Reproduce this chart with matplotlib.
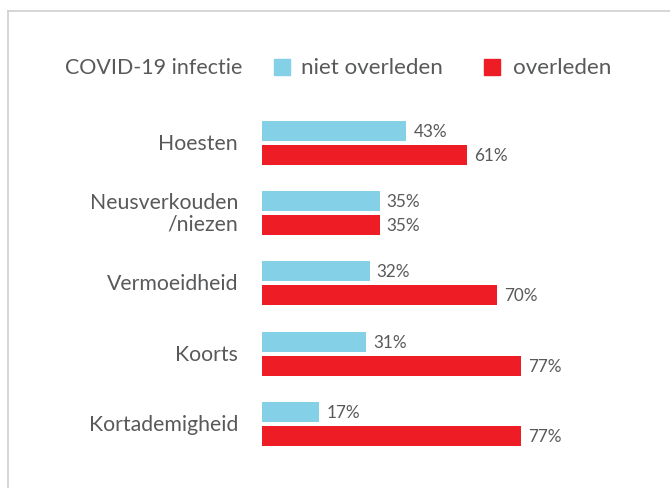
import matplotlib
matplotlib.use("Agg")
import matplotlib.pyplot as plt
from matplotlib.lines import Line2D
from matplotlib.patches import Rectangle

categories = ["Hoesten", "Neusverkouden\n/niezen", "Vermoeidheid", "Koorts", "Kortademigheid"]
niet_overleden = [43, 35, 32, 31, 17]
overleden = [61, 35, 70, 77, 77]
legend_title = "COVID-19 infectie"
series_names = ["niet overleden", "overleden"]

BLUE = "#83d0e7"
RED = "#ee1c25"
TXT = "#58595b"
FONT = ["Lato", "DejaVu Sans"]

W, H = 670, 489
fig = plt.figure(figsize=(W / 100, H / 100), dpi=100)

def fx(px):
    return px / W

def fy(py):
    return 1 - py / H

# frame border (left and top)
fig.add_artist(Line2D([fx(8), fx(8)], [fy(12), 0], color="#cfcfcf", lw=1.2))
fig.add_artist(Line2D([fx(8), 1], [fy(12), fy(12)], color="#cfcfcf", lw=1.2))

# axes: x 0..100 spans 262..598 px; groups centred at 144 + 70.2*i
SP = 70.2
x0, x1 = 262, 262 + 3.36 * 100
ytop, ybot = 144 - 0.5 * SP, 144 + 4.5 * SP
ax = fig.add_axes([fx(x0), fy(ybot), fx(x1) - fx(x0), fy(ytop) - fy(ybot)])
ax.set_xlim(0, 100)
ax.set_ylim(4.5, -0.5)
ax.axis("off")

bh = 20 / SP
off = 12 / SP
for i, (a, b) in enumerate(zip(niet_overleden, overleden)):
    ax.barh(i - off, a, height=bh, color=BLUE)
    ax.barh(i + off, b, height=bh, color=RED)
    ax.annotate(f"{a}%", (a, i - off), xytext=(7, 0), textcoords="offset pixels",
                va="center", ha="left", fontsize=12.3, color=TXT, family=FONT)
    ax.annotate(f"{b}%", (b, i + off), xytext=(7, 0), textcoords="offset pixels",
                va="center", ha="left", fontsize=12.3, color=TXT, family=FONT)
    ax.annotate(categories[i], (0, i), xytext=(-24, 0), textcoords="offset pixels",
                va="center", ha="right", fontsize=15.3, color=TXT, family=FONT,
                linespacing=1.1, multialignment="right")

# legend row
fig.text(fx(65), fy(68), legend_title, fontsize=15.4, color=TXT, family=FONT, va="center", ha="left")
fig.add_artist(Rectangle((fx(274), fy(76)), fx(16), fy(60) - fy(76), color=BLUE, transform=fig.transFigure))
fig.text(fx(301), fy(68), series_names[0], fontsize=16.1, color=TXT, family=FONT, va="center", ha="left")
fig.add_artist(Rectangle((fx(484), fy(76)), fx(16), fy(60) - fy(76), color=RED, transform=fig.transFigure))
fig.text(fx(513), fy(68), series_names[1], fontsize=16.1, color=TXT, family=FONT, va="center", ha="left")

fig.savefig("out.png", dpi=100)
